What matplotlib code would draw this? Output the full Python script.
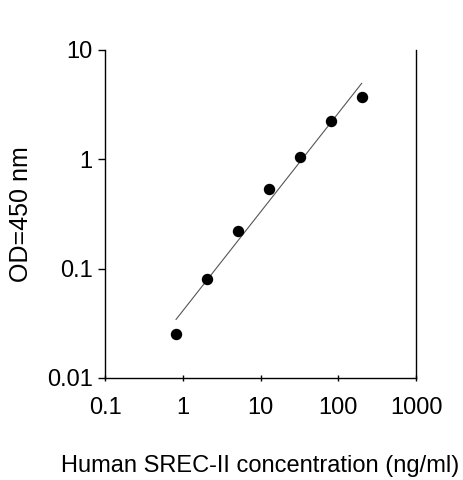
import numpy as np
import matplotlib
matplotlib.use("Agg")
import matplotlib.pyplot as plt
from matplotlib.ticker import FixedLocator, FixedFormatter, NullLocator

plt.rcParams['font.family'] = ['Liberation Sans', 'DejaVu Sans']

# standard curve data
conc = [0.82, 2.05, 5.12, 12.8, 32.0, 80.0, 200.0]
od = [0.025, 0.080, 0.221, 0.531, 1.04, 2.25, 3.68]

xticks = [0.1, 1, 10, 100, 1000]
xticklabels = ["0.1", "1", "10", "100", "1000"]
yticks = [0.01, 0.1, 1, 10]
yticklabels = ["0.01", "0.1", "1", "10"]

# power fit in log-log space
k, b = np.polyfit(np.log10(conc), np.log10(od), 1)
xf = np.array([min(conc), max(conc)])
yf = 10 ** (k * np.log10(xf) + b)

fig = plt.figure(figsize=(4.63, 4.80), dpi=100)
ax = fig.add_axes([105/463, 1-378/480, (416-105)/463, (378-50)/480])

ax.plot(xf, yf, color="#555555", lw=0.8)
ax.plot(conc, od, "o", color="black", ms=7.2, zorder=3)

ax.set_xscale("log")
ax.set_yscale("log")
ax.set_xlim(0.1, 1000)
ax.set_ylim(0.01, 10)

ax.xaxis.set_major_locator(FixedLocator(xticks))
ax.xaxis.set_major_formatter(FixedFormatter(xticklabels))
ax.xaxis.set_minor_locator(NullLocator())
ax.yaxis.set_major_locator(FixedLocator(yticks))
ax.yaxis.set_major_formatter(FixedFormatter(yticklabels))
ax.yaxis.set_minor_locator(NullLocator())

ax.spines['top'].set_visible(False)
for s in ['left', 'bottom', 'right']:
    ax.spines[s].set_linewidth(1.0)
    ax.spines[s].set_color("black")

ax.tick_params(axis='x', direction='inout', length=5, width=1, labelsize=17, pad=11)
ax.tick_params(axis='y', direction='out', length=5, width=1, labelsize=17, pad=4)

ax.set_xlabel("Human SREC-II concentration (ng/ml)", fontsize=17, labelpad=26)
ax.set_ylabel("OD=450 nm", fontsize=18, labelpad=10)

fig.savefig("out.png", dpi=100)
